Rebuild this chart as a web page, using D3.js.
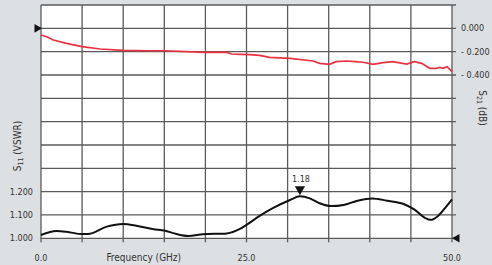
<!DOCTYPE html>
<html lang="en">
<head>
<meta charset="utf-8">
<title>S11 / S21 vs frequency</title>
<script src="https://cdn.jsdelivr.net/npm/d3@7"></script>
<style>
body { margin: 0; background: #dde0e2; }
.tick-label { font-family: "Liberation Sans Narrow", "DejaVu Sans Condensed", sans-serif; font-size: 9px; fill: #333; }
.axis-title { font-family: "Liberation Sans Narrow", "DejaVu Sans Condensed", sans-serif; font-size: 10px; fill: #333; }
.grid line { stroke: #5a5a5a; stroke-width: 1.3; }
</style>
</head>
<body>
<script>
// S11 (VSWR) - black curve
var vswrFreq = [0, 1.9, 3.1, 5, 5.7, 8, 10, 11.6, 13.7, 15, 16.5, 17.9, 19.7, 22.6, 24.2, 25.1, 26.6, 28.2, 30.3, 31.5, 32.7, 33.9, 35.3, 36.8, 38.4, 40.3, 42.1, 44.1, 45.4, 46.7, 47.4, 48.3, 49.3, 50];
var vswrVals = [1.014, 1.031, 1.028, 1.018, 1.018, 1.05, 1.061, 1.054, 1.039, 1.033, 1.018, 1.01, 1.017, 1.021, 1.04, 1.06, 1.096, 1.129, 1.164, 1.18, 1.171, 1.15, 1.138, 1.143, 1.16, 1.171, 1.161, 1.147, 1.124, 1.088, 1.079, 1.096, 1.136, 1.167];

// S21 (dB) - red curve
var dbFreq = [0, 0.7, 1.5, 3.1, 5, 7.2, 10, 13.2, 15, 17.7, 20, 22.6, 23.2, 24.2, 25.4, 26.6, 27.8, 30.3, 33.1, 33.9, 35.1, 35.9, 37.2, 38.2, 39.2, 40.4, 41.6, 42.8, 44.5, 45.4, 46.3, 47.3, 48.1, 48.5, 48.9, 49.4, 50];
var dbVals = [-0.057, -0.072, -0.1, -0.129, -0.157, -0.177, -0.189, -0.192, -0.192, -0.2, -0.206, -0.206, -0.22, -0.223, -0.226, -0.232, -0.249, -0.257, -0.28, -0.3, -0.309, -0.286, -0.28, -0.286, -0.291, -0.309, -0.294, -0.286, -0.306, -0.286, -0.3, -0.343, -0.343, -0.334, -0.343, -0.329, -0.371];

var xTickLabels = ["0.0", "25.0", "50.0"];
var leftTickLabels = ["1.000", "1.100", "1.200"];
var rightTickLabels = ["0.000", "-0.200", "-0.400"];
var markerLabel = "1.18";

var W = 492, H = 265;
var plot = {left: 41, right: 452, top: 5, bottom: 238.3};

var svg = d3.select("body").append("svg")
    .attr("width", W).attr("height", H);

var x = d3.scaleLinear().domain([0, 50]).range([plot.left, plot.right]);
var yL = d3.scaleLinear().domain([1.0, 2.0]).range([plot.bottom, plot.top]);
var yR = d3.scaleLinear().domain([-1.8, 0.2]).range([plot.bottom, plot.top]);

// plot background
svg.append("rect")
    .attr("x", plot.left).attr("y", plot.top)
    .attr("width", plot.right - plot.left).attr("height", plot.bottom - plot.top)
    .attr("fill", "#fff");

// grid
var grid = svg.append("g").attr("class", "grid");
grid.selectAll(".v").data(d3.range(0, 50.1, 5)).enter().append("line")
    .attr("x1", d => x(d)).attr("x2", d => x(d))
    .attr("y1", plot.top).attr("y2", plot.bottom + 4);
grid.selectAll(".h").data(d3.range(1.0, 2.01, 0.1)).enter().append("line")
    .attr("x1", plot.left).attr("x2", plot.right + 4)
    .attr("y1", d => yL(d)).attr("y2", d => yL(d));

// x tick labels
svg.selectAll(".xl").data(xTickLabels).enter().append("text")
    .attr("class", "tick-label")
    .attr("x", d => x(+d)).attr("y", 261)
    .attr("text-anchor", "middle")
    .text(d => d);

svg.append("text")
    .attr("class", "axis-title")
    .attr("x", x(12.5)).attr("y", 261)
    .attr("text-anchor", "middle")
    .text("Frequency (GHz)");

// left tick labels
svg.selectAll(".ll").data(leftTickLabels).enter().append("text")
    .attr("class", "tick-label")
    .attr("x", 33).attr("y", d => yL(+d) + 3)
    .attr("text-anchor", "end")
    .text(d => d);

// right tick labels
svg.selectAll(".rl").data(rightTickLabels).enter().append("text")
    .attr("class", "tick-label")
    .attr("x", 461).attr("y", d => yR(+d) + 3)
    .text(d => d.replace("-", "- "));

// axis titles with subscripts
var t1 = svg.append("text")
    .attr("class", "axis-title")
    .attr("transform", "translate(21,146) rotate(-90)")
    .attr("text-anchor", "middle");
t1.append("tspan").text("S");
t1.append("tspan").attr("font-size", "7px").attr("dy", 2).text("11");
t1.append("tspan").attr("dy", -2).text(" (VSWR)");

var t2 = svg.append("text")
    .attr("class", "axis-title")
    .attr("transform", "translate(479,108) rotate(90)")
    .attr("text-anchor", "middle");
t2.append("tspan").text("S");
t2.append("tspan").attr("font-size", "7px").attr("dy", 2).text("21");
t2.append("tspan").attr("dy", -2).text(" (dB)");

// curves
var lineL = d3.line().x((d, i) => x(vswrFreq[i])).y(d => yL(d)).curve(d3.curveMonotoneX);
var lineR = d3.line().x((d, i) => x(dbFreq[i])).y(d => yR(d));

svg.append("path").datum(dbVals)
    .attr("d", lineR)
    .attr("fill", "none").attr("stroke", "#e8323f").attr("stroke-width", 1.7);

svg.append("path").datum(vswrVals)
    .attr("d", lineL)
    .attr("fill", "none").attr("stroke", "#111").attr("stroke-width", 2);

// reference markers
svg.append("path")
    .attr("d", d3.symbol().type(d3.symbolTriangle).size(32))
    .attr("transform", "translate(" + (plot.left - 4) + "," + yR(0) + ") rotate(90)")
    .attr("fill", "#111");
svg.append("path")
    .attr("d", d3.symbol().type(d3.symbolTriangle).size(32))
    .attr("transform", "translate(" + (plot.right + 5) + "," + yL(1.0) + ") rotate(-90)")
    .attr("fill", "#111");

// peak marker
var peakI = d3.maxIndex(vswrVals);
var px = x(vswrFreq[peakI]), py = yL(vswrVals[peakI]);
svg.append("path")
    .attr("d", d3.symbol().type(d3.symbolTriangle).size(45))
    .attr("transform", "translate(" + px + "," + (py - 7) + ") rotate(180)")
    .attr("fill", "#111");
svg.append("text")
    .attr("class", "tick-label")
    .attr("x", px + 1).attr("y", py - 14)
    .attr("text-anchor", "middle")
    .text(markerLabel);
</script>
</body>
</html>
